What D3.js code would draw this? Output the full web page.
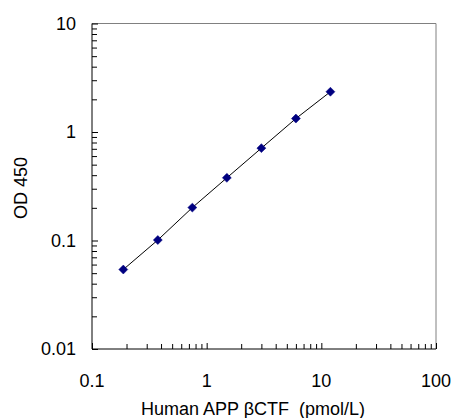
<!DOCTYPE html>
<html>
<head>
<meta charset="utf-8">
<script src="https://cdn.jsdelivr.net/npm/d3@7"></script>
<style>
  html, body { margin: 0; padding: 0; background: #fff; }
  svg text { font-family: "Liberation Sans", Arial, sans-serif; fill: #000; white-space: pre; }
</style>
</head>
<body>
<svg id="chart" width="455" height="418"></svg>
<script>
// Data
const concentration = [0.1875, 0.375, 0.75, 1.5, 3, 6, 12];
const od450 = [0.054, 0.101, 0.201, 0.378, 0.71, 1.33, 2.35];
const xTickValues = [0.1, 1, 10, 100];
const xTickLabels = ["0.1", "1", "10", "100"];
const yTickValues = [0.01, 0.1, 1, 10];
const yTickLabels = ["0.01", "0.1", "1", "10"];
const xTitle = "Human APP βCTF  (pmol/L)";
const yTitle = "OD 450";

(function () {
const svg = d3.select("#chart");
const pLeft = 92, pRight = 436, pTop = 23.5, pBottom = 349;

const x = d3.scaleLog().domain([0.1, 100]).range([pLeft, pRight]);
const y = d3.scaleLog().domain([0.01, 10]).range([pBottom, pTop]);

function minorTicks(lo, hi) {
  const t = [];
  for (let d = lo; d < hi * 0.999; d *= 10) {
    for (let k = 1; k <= 9; k++) t.push(+(d * k).toPrecision(3));
  }
  t.push(hi);
  return t;
}
const xMinor = minorTicks(0.1, 100);
const yMinor = minorTicks(0.01, 10);

// plot border (top/right gray)
svg.append("line").attr("x1", pLeft).attr("x2", pRight).attr("y1", pTop).attr("y2", pTop)
  .attr("stroke", "#808080").attr("stroke-width", 1);
svg.append("line").attr("x1", pRight).attr("x2", pRight).attr("y1", pTop).attr("y2", pBottom)
  .attr("stroke", "#808080").attr("stroke-width", 1);

// x axis (ticks inward / upward)
const xAxis = d3.axisBottom(x).tickValues(xMinor).tickSize(-5).tickFormat("");
const gx = svg.append("g").attr("transform", `translate(0,${pBottom})`).call(xAxis);
gx.select(".domain").attr("stroke", "#000").attr("d", `M${pLeft},0H${pRight}`);
gx.selectAll(".tick line").attr("stroke", "#000");
gx.selectAll(".tick line").filter(d => xTickValues.includes(d)).attr("y2", -6);

// y axis (ticks inward / right)
const yAxis = d3.axisLeft(y).tickValues(yMinor).tickSize(-5).tickFormat("");
const gy = svg.append("g").attr("transform", `translate(${pLeft},0)`).call(yAxis);
gy.select(".domain").attr("stroke", "#000").attr("d", `M0,${pTop}V${pBottom}`);
gy.selectAll(".tick line").attr("stroke", "#000");
gy.selectAll(".tick line").filter(d => yTickValues.includes(d)).attr("x2", 6);

// tick labels
svg.append("g").selectAll("text").data(xTickValues).join("text")
  .attr("x", d => x(d)).attr("y", 387)
  .attr("text-anchor", "middle").attr("font-size", 18)
  .text((d, i) => xTickLabels[i]);

svg.append("g").selectAll("text").data(yTickValues).join("text")
  .attr("x", 76).attr("y", d => y(d)).attr("dy", "0.35em")
  .attr("text-anchor", "end").attr("font-size", 18)
  .text((d, i) => yTickLabels[i]);

// titles
svg.append("text").attr("x", 253).attr("y", 415).attr("text-anchor", "middle")
  .attr("font-size", 18).text(xTitle);
svg.append("text").attr("transform", `translate(27,188) rotate(-90)`)
  .attr("text-anchor", "middle").attr("font-size", 18).text(yTitle);

// line
const line = d3.line().x(d => x(d[0])).y(d => y(d[1]));
const pts = concentration.map((c, i) => [c, od450[i]]);
svg.append("path").datum(pts).attr("d", line)
  .attr("fill", "none").attr("stroke", "#000").attr("stroke-width", 1);

// markers (diamonds)
const sym = d3.symbol().type(d3.symbolSquare).size(40);
svg.append("g").selectAll("path").data(pts).join("path")
  .attr("d", sym)
  .attr("transform", d => `translate(${x(d[0])},${y(d[1])}) rotate(45)`)
  .attr("fill", "#000080").attr("stroke", "#000080").attr("stroke-width", 0.5);
})();
</script>
</body>
</html>
